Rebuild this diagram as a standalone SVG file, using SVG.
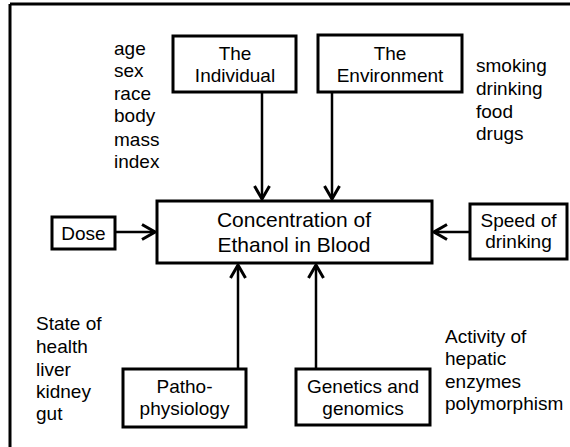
<svg xmlns="http://www.w3.org/2000/svg" width="570" height="447" viewBox="0 0 570 447">
<style>
.box{fill:#fff;stroke:#000;stroke-width:3}
.t{font-family:"Liberation Sans",Arial,sans-serif;font-size:19px;fill:#000}
.c{text-anchor:middle}
.big{font-size:21px}
.conn{stroke:#000;stroke-width:2.5;fill:none}
</style>
<defs>
<marker id="ah" viewBox="0 0 16 18" refX="15" refY="9" markerWidth="16" markerHeight="18" markerUnits="userSpaceOnUse" orient="auto">
<path d="M2,1.5 L15,9 L2,16.5" fill="none" stroke="#000" stroke-width="3"/>
</marker>
</defs>
<rect width="570" height="447" fill="#fff"/>
<g id="frame">
<line x1="10" y1="4" x2="570" y2="4" stroke="#000" stroke-width="3"/>
<line x1="10" y1="4" x2="10" y2="447" stroke="#000" stroke-width="3"/>
</g>
<g id="connectors">
<line class="conn" x1="262" y1="92" x2="262" y2="199" marker-end="url(#ah)"/>
<line class="conn" x1="332" y1="92" x2="332" y2="199" marker-end="url(#ah)"/>
<line class="conn" x1="115" y1="232" x2="155" y2="232" marker-end="url(#ah)"/>
<line class="conn" x1="470" y1="232" x2="434" y2="232" marker-end="url(#ah)"/>
<line class="conn" x1="238" y1="369" x2="238" y2="265" marker-end="url(#ah)"/>
<line class="conn" x1="316" y1="369" x2="316" y2="265" marker-end="url(#ah)"/>
</g>
<g id="individual">
<rect class="box" x="173" y="36" width="123" height="56"/>
<text class="t c" x="235" y="60">The</text>
<text class="t c" x="235" y="82">Individual</text>
</g>
<g id="environment">
<rect class="box" x="318" y="35" width="144" height="57"/>
<text class="t c" x="390" y="60">The</text>
<text class="t c" x="390" y="82">Environment</text>
</g>
<g id="concentration">
<rect class="box" x="157" y="201" width="275" height="62"/>
<text class="t c big" x="294" y="227">Concentration of</text>
<text class="t c big" x="294" y="252">Ethanol in Blood</text>
</g>
<g id="dose">
<rect class="box" x="52" y="217" width="63" height="32"/>
<text class="t c" x="83.5" y="240">Dose</text>
</g>
<g id="speed">
<rect class="box" x="470" y="204" width="97" height="55"/>
<text class="t c" x="518.5" y="227">Speed of</text>
<text class="t c" x="518.5" y="248">drinking</text>
</g>
<g id="patho">
<rect class="box" x="123" y="369" width="123" height="58"/>
<text class="t c" x="184.5" y="393">Patho-</text>
<text class="t c" x="184.5" y="415">physiology</text>
</g>
<g id="genetics">
<rect class="box" x="296" y="369" width="134" height="56"/>
<text class="t c" x="363" y="393">Genetics and</text>
<text class="t c" x="363" y="415">genomics</text>
</g>
<g id="individual-notes">
<text class="t" x="114" y="55">age</text>
<text class="t" x="114" y="77">sex</text>
<text class="t" x="114" y="100">race</text>
<text class="t" x="114" y="122">body</text>
<text class="t" x="114" y="146">mass</text>
<text class="t" x="114" y="168">index</text>
</g>
<g id="environment-notes">
<text class="t" x="476" y="72">smoking</text>
<text class="t" x="476" y="95">drinking</text>
<text class="t" x="476" y="118">food</text>
<text class="t" x="476" y="140">drugs</text>
</g>
<g id="patho-notes">
<text class="t" x="36" y="330">State of</text>
<text class="t" x="36" y="353">health</text>
<text class="t" x="36" y="376">liver</text>
<text class="t" x="36" y="398">kidney</text>
<text class="t" x="36" y="420">gut</text>
</g>
<g id="genetics-notes">
<text class="t" x="445" y="343">Activity of</text>
<text class="t" x="445" y="365">hepatic</text>
<text class="t" x="445" y="388">enzymes</text>
<text class="t" x="445" y="410">polymorphism</text>
</g>
</svg>
